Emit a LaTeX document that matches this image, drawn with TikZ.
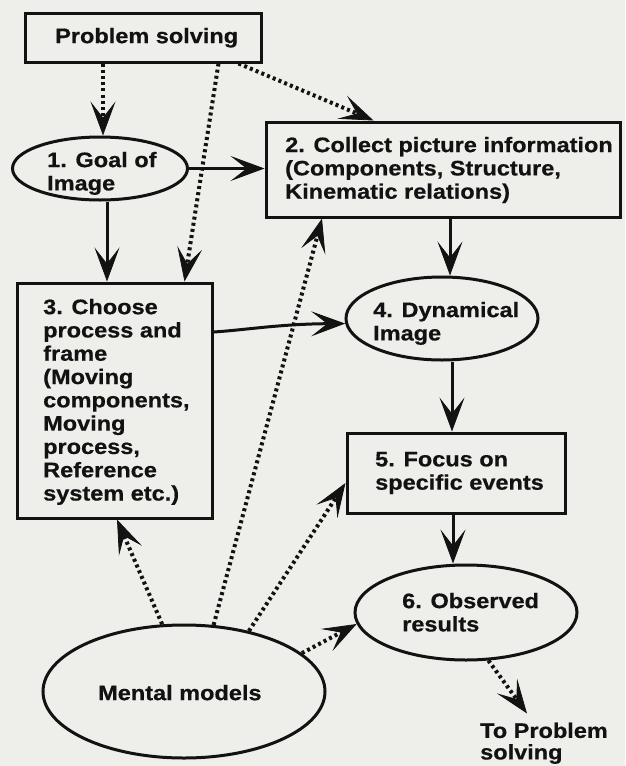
\documentclass[tikz,border=0pt]{standalone}
\usepackage{fontspec}
\setmainfont{Liberation Sans}[FakeStretch=1.12, BoldFeatures={FakeBold=0.6}]
\usetikzlibrary{arrows.meta,shapes.geometric,calc}
\definecolor{paper}{RGB}{238,238,235}
\definecolor{ink}{RGB}{18,18,18}
\begin{document}
\begin{tikzpicture}[x=1pt,y=-1pt,
  box/.style={draw=ink, line width=3pt, rectangle, inner sep=0pt},
  oval/.style={draw=ink, line width=3pt, ellipse, inner sep=0pt},
  txt/.style={font=\fontsize{21}{23.3}\selectfont\bfseries, align=left, inner sep=0pt, anchor=north west, text=ink},
  arr/.style={draw=ink, line width=3pt, -{Stealth[length=34pt,width=25pt,inset=16pt,line width=0.8pt]}},
  dotarr/.style={arr, line width=4pt, dash pattern=on 3pt off 3.2pt, line cap=butt}]
\fill[paper] (0,0) rectangle (625,766);
\useasboundingbox (0,0) rectangle (625,766);

% shapes
\node[box, minimum width=236pt, minimum height=49pt] (ps) at (143,37.5) {};
\node[box, minimum width=354pt, minimum height=95pt] (c2) at (443,169.5) {};
\node[box, minimum width=195pt, minimum height=235pt] (c3) at (114.5,400.5) {};
\node[box, minimum width=218pt, minimum height=80pt] (c5) at (456,473) {};
\node[oval, minimum width=175pt, minimum height=63pt] (goal) at (100,168.5) {};
\node[oval, minimum width=192pt, minimum height=83pt] (dyn) at (442,318.5) {};
\node[oval, minimum width=222pt, minimum height=95pt] (obs) at (466,612.5) {};
\node[oval, minimum width=282pt, minimum height=133pt] (mm) at (184,691.5) {};

% texts
\node[txt] (pst) at (55,27.7) {Problem solving};
\node[txt] (goalt) at (47,151.7) {1. Goal of\\Image};
\node[txt] (c2t) at (285,136.7) {2. Collect picture information\\(Components, Structure,\\Kinematic relations)};
\node[txt] (c3t) at (43,298.7) {3. Choose\\process and\\frame\\(Moving\\components,\\Moving\\process,\\Reference\\system etc.)};
\node[txt] (dynt) at (373,301.7) {4. Dynamical\\Image};
\node[txt] (c5t) at (375,451.7) {5. Focus on\\specific events};
\node[txt] (obst) at (402,592.7) {6. Observed\\results};
\node[txt] (mmt) at (98,684.7) {Mental models};
\node[txt, font=\fontsize{21}{21.5}\selectfont\bfseries] (tops) at (480,722.5) {To Problem\\solving};

% solid connectors
\draw[arr] (goal.east) -- (goal.east -| c2.west);
\draw[arr] ([xshift=7pt]goal.south) -- ([xshift=-7.5pt]c3.north);
\draw[arr] ([yshift=68.5pt]c3.east) .. controls (245,330) and (280,324) .. (dyn.183);
\draw[arr] ([xshift=7pt]c2.south) -- ([xshift=8pt]dyn.north);
\draw[arr] ([xshift=10pt]dyn.south) -- ([xshift=-4pt]c5.north);
\draw[arr] ([xshift=-3pt]c5.south) -- ([xshift=-13pt]obs.north);

% dotted connectors
\draw[dotarr] ([xshift=-40pt]ps.south) -- ([xshift=3pt]goal.north);
\draw[dotarr] ([xshift=-44pt]ps.south east) -- ([xshift=-29pt]c3.north east);
\draw[dotarr] ([xshift=-24pt]ps.south east) -- ([xshift=109pt]c2.north west);
\draw[dotarr] (mm.108) -- ([xshift=2.5pt]c3.south);
\draw[dotarr] (mm.66) -- ([xshift=-121pt]c2.south);
\draw[dotarr] (mm.43) -- ([yshift=-10pt]c5.west);
\draw[dotarr] (mm.18) -- (obs.186);
\draw[dotarr] (obs.-65) -- ([xshift=-17pt,yshift=9pt]tops.north);
\end{tikzpicture}
\end{document}
